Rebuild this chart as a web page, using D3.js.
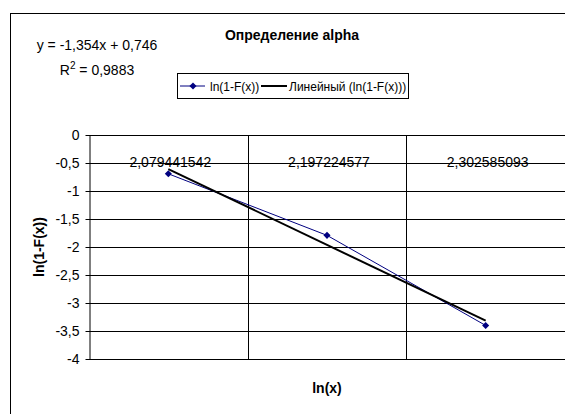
<!DOCTYPE html>
<html>
<head>
<meta charset="utf-8">
<script src="https://cdn.jsdelivr.net/npm/d3@7"></script>
<style>
  body { margin: 0; background: #fff; }
  text { font-family: "Liberation Sans", Arial, sans-serif; fill: #000; }
</style>
</head>
<body>
<script>
// data
var categories = ["2,079441542", "2,197224577", "2,302585093"];
var lnValues = [-0.693, -1.792, -3.401];
var trendSlope = -1.354, trendIntercept = 0.746;
var yTicks = [0, -0.5, -1, -1.5, -2, -2.5, -3, -3.5, -4];
var chartTitle = "Определение alpha";
var seriesName = "ln(1-F(x))";
var trendName = "Линейный (ln(1-F(x)))";
var equationText = ["y = -1,354x + 0,746", "R", "2", " = 0,9883"];

var W = 565, H = 414;
var plot = {left: 89, top: 135, right: 565, bottom: 359};

var svg = d3.select("body").append("svg")
    .attr("width", W)
    .attr("height", H);

// outer chart border (goes past the right / bottom edge)
svg.append("rect")
    .attr("x", 10.5).attr("y", 13.5)
    .attr("width", W + 20).attr("height", H + 20)
    .attr("fill", "none").attr("stroke", "#000");

var x = d3.scaleBand()
    .domain(categories)
    .range([plot.left, plot.right])
    .padding(0);

var y = d3.scaleLinear()
    .domain([-4, 0])
    .range([plot.bottom, plot.top]);

// horizontal gridlines
svg.selectAll(".grid")
    .data(yTicks)
    .enter().append("line")
    .attr("class", "grid")
    .attr("x1", plot.left).attr("x2", plot.right)
    .attr("y1", function (d) { return Math.round(y(d)) + 0.5; })
    .attr("y2", function (d) { return Math.round(y(d)) + 0.5; })
    .attr("stroke", "#000");

// category separators
svg.selectAll(".sep")
    .data(categories.slice(1))
    .enter().append("line")
    .attr("class", "sep")
    .attr("x1", function (d) { return Math.round(x(d)) + 0.5; })
    .attr("x2", function (d) { return Math.round(x(d)) + 0.5; })
    .attr("y1", plot.top).attr("y2", plot.bottom)
    .attr("stroke", "#000");

// y axis
var yAxis = svg.append("g")
    .attr("transform", "translate(" + (plot.left + 0.5) + ",0)")
    .call(d3.axisLeft(y)
        .tickValues(yTicks)
        .tickSize(4)
        .tickSizeOuter(0)
        .tickPadding(6)
        .tickFormat(function (d) { return String(d).replace(".", ","); }));
yAxis.select(".domain").attr("stroke", "#000");
yAxis.selectAll(".tick line").attr("stroke", "#000");
yAxis.selectAll("text")
    .attr("font-size", 14)
    .attr("font-family", "Liberation Sans, Arial, sans-serif")
    .attr("fill", "#000");

// category labels (sit inside the plot near the top)
svg.selectAll(".cat")
    .data(categories)
    .enter().append("text")
    .attr("class", "cat")
    .attr("x", function (d) { return x(d) + x.bandwidth() / 2 + 2; })
    .attr("y", 167)
    .attr("text-anchor", "middle")
    .attr("font-size", 14)
    .text(function (d) { return d; });

var pts = categories.map(function (c, i) { return [x(c) + x.bandwidth() / 2, lnValues[i]]; });

// data series
svg.append("path")
    .datum(pts)
    .attr("fill", "none")
    .attr("stroke", "#000080")
    .attr("stroke-width", 1)
    .attr("d", d3.line()
        .x(function (d) { return d[0]; })
        .y(function (d) { return y(d[1]); }));

// trend line: y = slope * i + intercept, i = 1..n
var trendPts = [0, categories.length - 1].map(function (i) {
    return [x(categories[i]) + x.bandwidth() / 2, trendSlope * (i + 1) + trendIntercept];
});
svg.append("path")
    .datum(trendPts)
    .attr("fill", "none")
    .attr("stroke", "#000")
    .attr("stroke-width", 2)
    .attr("d", d3.line()
        .x(function (d) { return d[0]; })
        .y(function (d) { return y(d[1]); }));

var diamond = d3.symbol().type(d3.symbolDiamond2).size(32);
svg.selectAll(".pt")
    .data(pts)
    .enter().append("path")
    .attr("class", "pt")
    .attr("transform", function (d) { return "translate(" + d[0] + "," + y(d[1]) + ")"; })
    .attr("d", diamond)
    .attr("fill", "#000080");

// title
svg.append("text")
    .attr("x", 292).attr("y", 40)
    .attr("text-anchor", "middle")
    .attr("font-size", 14)
    .attr("font-weight", "bold")
    .text(chartTitle);

// trend equation
svg.append("text")
    .attr("x", 97).attr("y", 50)
    .attr("text-anchor", "middle")
    .attr("font-size", 14)
    .text(equationText[0]);
var r2 = svg.append("text")
    .attr("x", 97).attr("y", 75)
    .attr("text-anchor", "middle")
    .attr("font-size", 14);
r2.append("tspan").text(equationText[1]);
r2.append("tspan").attr("dy", -6).attr("font-size", 10).text(equationText[2]);
r2.append("tspan").attr("dy", 6).text(equationText[3]);

// axis titles
svg.append("text")
    .attr("transform", "translate(44," + (plot.top + plot.bottom) / 2 + ") rotate(-90)")
    .attr("text-anchor", "middle")
    .attr("font-size", 14)
    .attr("font-weight", "bold")
    .text(seriesName);

svg.append("text")
    .attr("x", (plot.left + plot.right) / 2).attr("y", 393)
    .attr("text-anchor", "middle")
    .attr("font-size", 14)
    .attr("font-weight", "bold")
    .text("ln(x)");

// legend
var lg = svg.append("g").attr("transform", "translate(177,73)");
lg.append("rect")
    .attr("x", 0.5).attr("y", 0.5)
    .attr("width", 231).attr("height", 25)
    .attr("fill", "#fff").attr("stroke", "#000");
lg.append("line")
    .attr("x1", 3).attr("x2", 28).attr("y1", 13).attr("y2", 13)
    .attr("stroke", "#000080");
lg.append("path")
    .attr("transform", "translate(16,13)")
    .attr("d", diamond)
    .attr("fill", "#000080");
lg.append("text")
    .attr("x", 33).attr("y", 17.5)
    .attr("font-size", 12)
    .text(seriesName);
lg.append("line")
    .attr("x1", 84).attr("x2", 110).attr("y1", 13).attr("y2", 13)
    .attr("stroke", "#000").attr("stroke-width", 2);
lg.append("text")
    .attr("x", 112).attr("y", 17.5)
    .attr("font-size", 12)
    .text(trendName);
</script>
</body>
</html>
